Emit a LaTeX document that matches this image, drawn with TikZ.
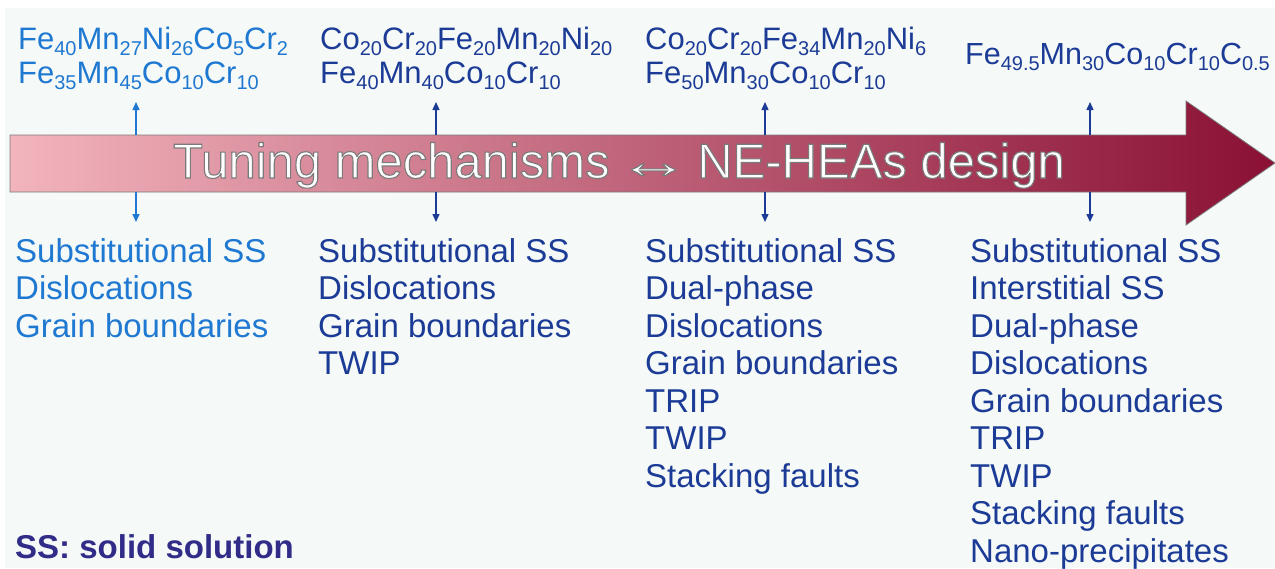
\documentclass[tikz,border=0pt]{standalone}
\usepackage{fontspec}
\setmainfont{Liberation Sans}
\usetikzlibrary{arrows.meta}
\definecolor{bg}{HTML}{F5FAF8}
\definecolor{lblue}{HTML}{1F78D1}
\definecolor{dblue}{HTML}{1C3B96}
\definecolor{ssc}{HTML}{302C88}
\definecolor{pinkL}{HTML}{F2B4BD}
\definecolor{pinkM}{HTML}{C4586F}
\definecolor{maroon}{HTML}{8A1034}
\definecolor{outl}{HTML}{7A7A7A}
\newcommand{\sbs}[1]{\raisebox{-0.2em}{\fontsize{20}{20}\selectfont #1}}
\newcommand{\outlined}[1]{\special{pdf:literal direct 2 Tr 1.1 w 0.48 G}#1\special{pdf:literal direct 0 Tr}}
\tikzset{
  formula/.style={anchor=base west, inner sep=0pt, font=\fontsize{31}{31}\selectfont},
  item/.style={anchor=base west, inner sep=0pt, font=\fontsize{33}{33}\selectfont},
  tick/.style={-{Triangle[length=8pt,width=7pt]}, line width=1.4pt},
}
\begin{document}
\begin{tikzpicture}[x=1pt,y=-1pt]
\useasboundingbox (0,0) rectangle (1275,568);
\fill[white] (0,0) rectangle (1275,568);
\fill[bg] (5,8) rectangle (1275,568);
% big arrow
\path[draw=outl, line width=0.8pt, left color=pinkL, middle color=pinkM, right color=maroon]
  (10,135) -- (1186,135) -- (1186,101) -- (1275,163) -- (1186,225) -- (1186,192) -- (10,192) -- cycle;
\node[anchor=base, inner sep=0pt, text=white, font=\fontsize{49}{49}\selectfont] (title) at (619,178)
  {\outlined{Tuning mechanisms}\hspace{7pt}\scalebox{1.5}[1]{\outlined{↔}}\hspace{7pt}\outlined{NE-HEAs design}};
% formulas
\node[formula, text=lblue] (f1a) at (18,49) {Fe\sbs{40}Mn\sbs{27}Ni\sbs{26}Co\sbs{5}Cr\sbs{2}};
\node[formula, text=lblue] (f1b) at (18,83) {Fe\sbs{35}Mn\sbs{45}Co\sbs{10}Cr\sbs{10}};
\node[formula, text=dblue] (f2a) at (320,49) {Co\sbs{20}Cr\sbs{20}Fe\sbs{20}Mn\sbs{20}Ni\sbs{20}};
\node[formula, text=dblue] (f2b) at (320,83) {Fe\sbs{40}Mn\sbs{40}Co\sbs{10}Cr\sbs{10}};
\node[formula, text=dblue] (f3a) at (645,49) {Co\sbs{20}Cr\sbs{20}Fe\sbs{34}Mn\sbs{20}Ni\sbs{6}};
\node[formula, text=dblue] (f3b) at (645,83) {Fe\sbs{50}Mn\sbs{30}Co\sbs{10}Cr\sbs{10}};
\node[formula, text=dblue, font=\fontsize{30.5}{31}\selectfont] (f4a) at (965,64) {Fe\sbs{49.5}Mn\sbs{30}Co\sbs{10}Cr\sbs{10}C\sbs{0.5}};
% connector coordinates
\foreach \i/\x in {1/136,2/436,3/765,4/1090}{
  \coordinate (t\i) at (\x,135);
  \coordinate (u\i) at (\x,102);
  \coordinate (b\i) at (\x,192);
  \coordinate (d\i) at (\x,222);
}
\draw[tick, lblue] (t1) -- (u1);
\draw[tick, lblue] (b1) -- (d1);
\foreach \i in {2,3,4}{
  \draw[tick, dblue] (t\i) -- (u\i);
  \draw[tick, dblue] (b\i) -- (d\i);
}
% lists
\foreach [count=\k] \t in {Substitutional SS,Dislocations,Grain boundaries}
  \node[item, text=lblue] (l1-\k) at (15,{262+37.5*(\k-1)}) {\t};
\foreach [count=\k] \t in {Substitutional SS,Dislocations,Grain boundaries,TWIP}
  \node[item, text=dblue] (l2-\k) at (318,{262+37.5*(\k-1)}) {\t};
\foreach [count=\k] \t in {Substitutional SS,Dual-phase,Dislocations,Grain boundaries,TRIP,TWIP,Stacking faults}
  \node[item, text=dblue] (l3-\k) at (645,{262+37.5*(\k-1)}) {\t};
\foreach [count=\k] \t in {Substitutional SS,Interstitial SS,Dual-phase,Dislocations,Grain boundaries,TRIP,TWIP,Stacking faults,Nano-precipitates}
  \node[item, text=dblue] (l4-\k) at (970,{262+37.5*(\k-1)}) {\t};
\node[item, text=ssc, font=\fontsize{33}{33}\selectfont\bfseries] (ss) at (15,558) {SS: solid solution};
\end{tikzpicture}
\end{document}
